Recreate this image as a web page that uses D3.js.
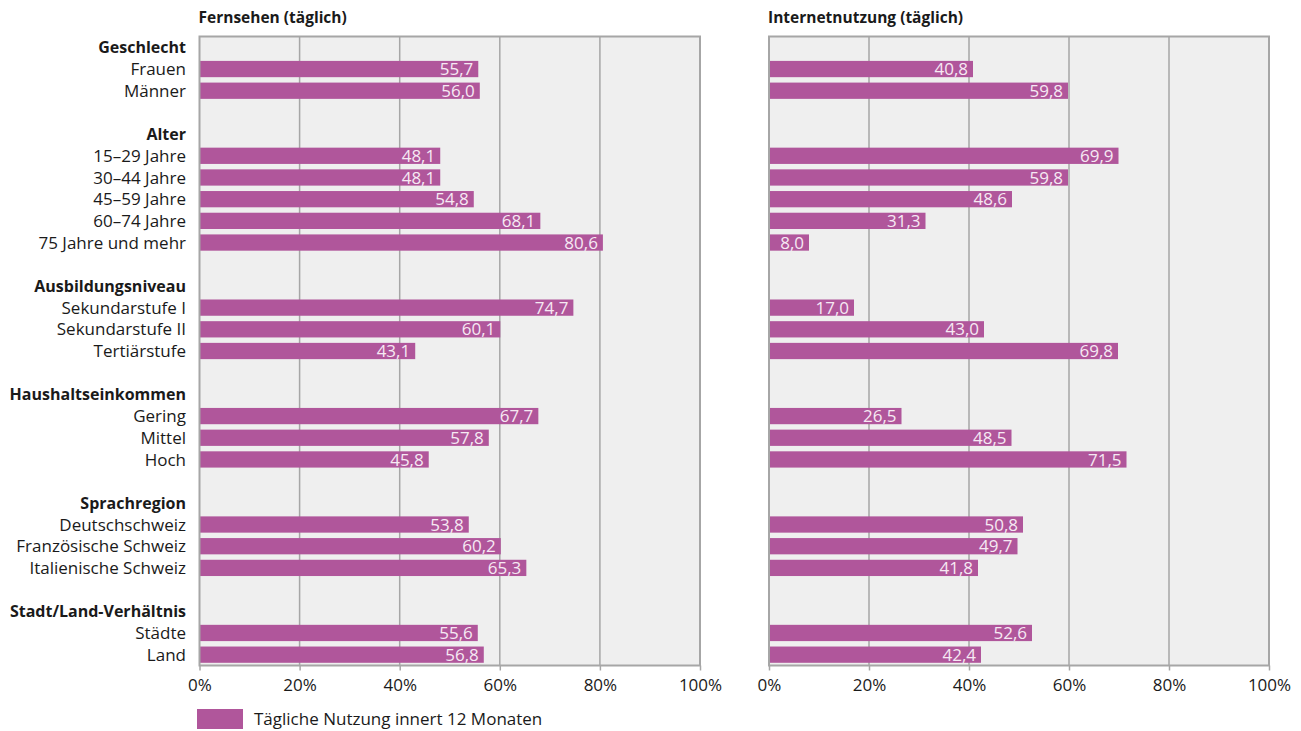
<!DOCTYPE html>
<html>
<head>
<meta charset="utf-8">
<script src="https://cdn.jsdelivr.net/npm/d3@7.9.0/dist/d3.min.js"></script>
<style>
  body { margin: 0; background: #fff; }
  svg text { font-family: "Open Sans", Lato, sans-serif; fill: #1a1a1a; }
</style>
</head>
<body>
<svg id="chart" width="1301" height="731"></svg>
<script>
// DATA
const groups = ['Geschlecht', 'Alter', 'Ausbildungsniveau', 'Haushaltseinkommen', 'Sprachregion', 'Stadt/Land-Verhältnis'];
const groupItems = [
  ['Frauen', 'Männer'],
  ['15–29 Jahre', '30–44 Jahre', '45–59 Jahre', '60–74 Jahre', '75 Jahre und mehr'],
  ['Sekundarstufe I', 'Sekundarstufe II', 'Tertiärstufe'],
  ['Gering', 'Mittel', 'Hoch'],
  ['Deutschschweiz', 'Französische Schweiz', 'Italienische Schweiz'],
  ['Städte', 'Land']
];
const fernsehen = [55.7, 56.0, 48.1, 48.1, 54.8, 68.1, 80.6, 74.7, 60.1, 43.1, 67.7, 57.8, 45.8, 53.8, 60.2, 65.3, 55.6, 56.8];
const internet = [40.8, 59.8, 69.9, 59.8, 48.6, 31.3, 8.0, 17.0, 43.0, 69.8, 26.5, 48.5, 71.5, 50.8, 49.7, 41.8, 52.6, 42.4];
const panelTitles = ['Fernsehen (täglich)', 'Internetnutzung (täglich)'];
const tickValues = [0, 20, 40, 60, 80, 100];
const legendLabel = 'Tägliche Nutzung innert 12 Monaten';

// build row list: header, items, blank spacer between groups
const rows = [];
let k = 0;
groups.forEach((g, gi) => {
  rows.push({ id: 'h' + gi, label: g, header: true });
  groupItems[gi].forEach(item => {
    rows.push({ id: 'r' + k, label: item, idx: k });
    k++;
  });
  if (gi < groups.length - 1) rows.push({ id: 'b' + gi, label: '' });
});

const svg = d3.select('#chart');
const plotTop = 36.5, plotBottom = 665.5;
const barColor = '#b0569b';

const y = d3.scaleBand()
  .domain(rows.map(r => r.id))
  .range([plotTop, plotBottom])
  .paddingInner(0.25)
  .paddingOuter(0.125);

// category labels
svg.append('g')
  .selectAll('text')
  .data(rows.filter(r => r.label))
  .join('text')
  .attr('x', 186)
  .attr('y', r => y(r.id) + y.bandwidth() / 2)
  .attr('dy', '0.36em')
  .attr('text-anchor', 'end')
  .attr('font-size', r => r.header ? 16 : 17)
  .attr('font-weight', r => r.header ? 'bold' : 'normal')
  .text(r => r.label);

const panels = [
  { title: panelTitles[0], values: fernsehen, x0: 199.5, x1: 700 },
  { title: panelTitles[1], values: internet, x0: 769, x1: 1269 }
];

panels.forEach(p => {
  const x = d3.scaleLinear().domain([0, 100]).range([p.x0, p.x1]);
  const g = svg.append('g');

  g.append('rect')
    .attr('x', p.x0).attr('y', plotTop)
    .attr('width', p.x1 - p.x0).attr('height', plotBottom - plotTop)
    .attr('fill', '#efefef');

  // grid
  g.selectAll('line.grid')
    .data(tickValues.slice(1, -1))
    .join('line')
    .attr('class', 'grid')
    .attr('x1', d => x(d)).attr('x2', d => x(d))
    .attr('y1', plotTop).attr('y2', plotBottom)
    .attr('stroke', '#a6a6a6')
    .attr('stroke-width', 1.5);

  // axis
  const axis = d3.axisBottom(x)
    .tickValues(tickValues)
    .tickFormat(d => d + '%')
    .tickSize(5)
    .tickPadding(8);
  const ax = g.append('g')
    .attr('transform', `translate(0,${plotBottom})`)
    .call(axis);
  ax.select('.domain').remove();
  ax.selectAll('line').attr('stroke', '#a6a6a6').attr('stroke-width', 1.5);
  ax.selectAll('text').attr('font-size', 17).attr('font-family', '"Open Sans", sans-serif').attr('fill', '#1a1a1a');

  // bars
  const data = rows.filter(r => r.idx !== undefined);
  g.selectAll('rect.bar')
    .data(data)
    .join('rect')
    .attr('class', 'bar')
    .attr('x', x(0))
    .attr('y', r => y(r.id))
    .attr('width', r => x(p.values[r.idx]) - x(0))
    .attr('height', y.bandwidth())
    .attr('fill', barColor);

  g.selectAll('text.val')
    .data(data)
    .join('text')
    .attr('class', 'val')
    .attr('x', r => x(p.values[r.idx]) - 5)
    .attr('y', r => y(r.id) + y.bandwidth() / 2)
    .attr('dy', '0.36em')
    .attr('text-anchor', 'end')
    .attr('font-size', 17)
    .style('fill', '#f6e9f3')
    .text(r => d3.format('.1f')(p.values[r.idx]).replace('.', ','));

  // border
  g.append('rect')
    .attr('x', p.x0).attr('y', plotTop)
    .attr('width', p.x1 - p.x0).attr('height', plotBottom - plotTop)
    .attr('fill', 'none')
    .attr('stroke', '#a6a6a6')
    .attr('stroke-width', 2);

  svg.append('text')
    .attr('x', p.x0 - 1)
    .attr('y', 23)
    .attr('font-size', 15.5)
    .attr('font-weight', 'bold')
    .text(p.title);
});

// legend
svg.append('rect')
  .attr('x', 197).attr('y', 709)
  .attr('width', 46).attr('height', 20)
  .attr('fill', barColor);
svg.append('text')
  .attr('x', 254).attr('y', 719)
  .attr('dy', '0.36em')
  .attr('font-size', 17)
  .text(legendLabel);
</script>
</body>
</html>
